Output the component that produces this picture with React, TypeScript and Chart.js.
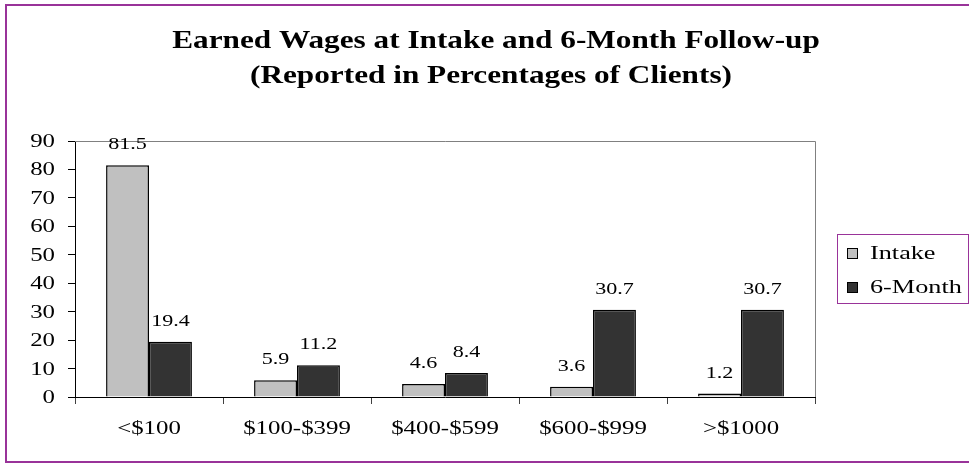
import React, { useEffect, useRef } from "react";
import { Chart, registerables } from "chart.js";

Chart.register(...registerables);

const CATEGORIES = ["<$100", "$100-$399", "$400-$599", "$600-$999", ">$1000"];
const INTAKE = [81.5, 5.9, 4.6, 3.6, 1.2];
const SIX_MONTH = [19.4, 11.2, 8.4, 30.7, 30.7];
const SERIES_NAMES = ["Intake", "6-Month"];
const Y_TICKS = [0, 10, 20, 30, 40, 50, 60, 70, 80, 90];
const TITLE_LINES = [
  "Earned Wages at Intake and 6-Month Follow-up",
  "(Reported in Percentages of Clients)",
];

const W = 969;
const H = 464;
const FONT = "'Liberation Serif', 'Times New Roman', serif";
const STRETCH = 1.38;
const TITLE_STRETCH = 1.25;
const PURPLE = "#993399";
const COLORS = ["#C0C0C0", "#333333"];

function drawText(
  ctx: CanvasRenderingContext2D,
  text: string,
  x: number,
  y: number,
  align: CanvasTextAlign,
  font: string,
  sx: number
) {
  ctx.save();
  ctx.translate(x, y);
  ctx.scale(sx, 1);
  ctx.font = font;
  ctx.fillStyle = "#000";
  ctx.textAlign = align;
  ctx.textBaseline = "alphabetic";
  ctx.fillText(text, 0, 0);
  ctx.restore();
}

const decorPlugin = {
  id: "decor",
  beforeDraw(chart: any) {
    const ctx = chart.ctx as CanvasRenderingContext2D;
    ctx.save();
    ctx.fillStyle = "#fff";
    ctx.fillRect(0, 0, W, H);
    ctx.strokeStyle = PURPLE;
    ctx.lineWidth = 2;
    ctx.strokeRect(6, 5, W + 10, H - 7);
    ctx.restore();
  },
  beforeDatasetsDraw(chart: any) {
    const ctx = chart.ctx as CanvasRenderingContext2D;
    const a = chart.chartArea;
    ctx.save();
    ctx.strokeStyle = "#808080";
    ctx.lineWidth = 1;
    ctx.beginPath();
    ctx.moveTo(a.left, Math.round(a.top) + 0.5);
    ctx.lineTo(Math.round(a.right) + 0.5, Math.round(a.top) + 0.5);
    ctx.lineTo(Math.round(a.right) + 0.5, a.bottom);
    ctx.stroke();
    ctx.restore();
  },
  afterDraw(chart: any) {
    const ctx = chart.ctx as CanvasRenderingContext2D;
    const xs = chart.scales.x;
    const ys = chart.scales.y;
    // Title
    drawText(ctx, TITLE_LINES[0], 496, 48, "center", `bold 25px ${FONT}`, TITLE_STRETCH);
    drawText(ctx, TITLE_LINES[1], 491, 83, "center", `bold 25px ${FONT}`, TITLE_STRETCH);
    // Y tick labels
    Y_TICKS.forEach((v) => {
      const y = ys.getPixelForValue(v);
      drawText(ctx, String(v), 55, y + 6, "right", `18px ${FONT}`, STRETCH);
    });
    // X tick labels
    CATEGORIES.forEach((c, i) => {
      const x = xs.getPixelForValue(i);
      drawText(ctx, c, x, 434, "center", `18px ${FONT}`, STRETCH);
    });
    // Data labels
    chart.data.datasets.forEach((ds: any, di: number) => {
      const meta = chart.getDatasetMeta(di);
      meta.data.forEach((el: any, i: number) => {
        drawText(ctx, String(ds.data[i]), el.x, el.y - 16, "center", `16px ${FONT}`, STRETCH);
      });
    });
    // Legend
    ctx.save();
    ctx.strokeStyle = PURPLE;
    ctx.lineWidth = 1;
    ctx.strokeRect(837.5, 234.5, 131, 69);
    SERIES_NAMES.forEach((name, i) => {
      const top = 248 + i * 34;
      ctx.fillStyle = COLORS[i];
      ctx.fillRect(847, top, 10, 10);
      ctx.strokeStyle = "#000";
      ctx.strokeRect(847.5, top + 0.5, 10, 10);
      drawText(ctx, name, 870, top + 11, "left", `19px ${FONT}`, STRETCH);
    });
    ctx.restore();
  },
};

export default function App() {
  const ref = useRef<HTMLCanvasElement | null>(null);
  useEffect(() => {
    if (!ref.current) return;
    const chart = new Chart(ref.current, {
      type: "bar",
      data: {
        labels: CATEGORIES,
        datasets: [
          {
            label: SERIES_NAMES[0],
            data: INTAKE,
            backgroundColor: COLORS[0],
            borderColor: "#000",
            borderWidth: 1.5,
            categoryPercentage: 0.58,
            barPercentage: 1,
          },
          {
            label: SERIES_NAMES[1],
            data: SIX_MONTH,
            backgroundColor: COLORS[1],
            borderColor: "#000",
            borderWidth: 1.5,
            categoryPercentage: 0.58,
            barPercentage: 1,
          },
        ],
      },
      options: {
        responsive: false,
        animation: false,
        layout: { padding: { left: 0, right: 154, top: 141, bottom: 0 } },
        plugins: {
          legend: { display: false },
          title: { display: false },
          tooltip: { enabled: false },
        },
        scales: {
          x: {
            ticks: { display: false },
            grid: {
              offset: true,
              drawOnChartArea: false,
              drawTicks: true,
              tickLength: 7,
              color: "#404040",
            },
            border: { color: "#000", width: 1 },
            afterFit: (s: any) => {
              s.height = 67;
            },
          },
          y: {
            min: 0,
            max: 90,
            ticks: { display: false, stepSize: 10 },
            grid: {
              drawOnChartArea: false,
              drawTicks: true,
              tickLength: 7,
              color: "#000",
            },
            border: { color: "#000", width: 1 },
            afterFit: (s: any) => {
              s.width = 75;
            },
          },
        },
      },
      plugins: [decorPlugin],
    });
    return () => chart.destroy();
  }, []);
  return (
    <div style={{ position: "fixed", left: 0, top: 0, width: W, height: H }}>
      <canvas ref={ref} width={W} height={H} style={{ display: "block" }} />
    </div>
  );
}
